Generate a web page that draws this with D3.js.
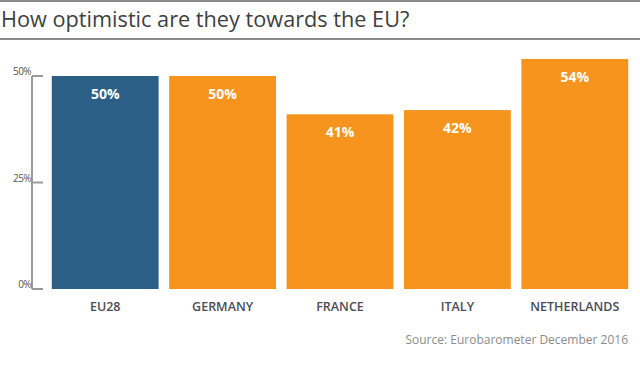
<!DOCTYPE html>
<html><head><meta charset="utf-8">
<script src="https://cdn.jsdelivr.net/npm/d3@7"></script>
<style>body{margin:0;background:#fff;}svg{display:block;}</style>
</head><body>
<svg id="c" width="640" height="366"></svg>
<script>
const categories = ["EU28","GERMANY","FRANCE","ITALY","NETHERLANDS"];
const values = [50,50,41,42,54];
const barColors = ["#2c5f86","#f7941d","#f7941d","#f7941d","#f7941d"];
const tickValues = [0,25,50];
const tickLabels = ["0%","25%","50%"];
const title = "How optimistic are they towards the EU?";
const source = "Source: Eurobarometer December 2016";

const svg = d3.select("#c");
const font = "'Open Sans', sans-serif";

svg.append("line").attr("x1",0).attr("x2",640).attr("y1",1).attr("y2",1).attr("stroke","#8a8a8a").attr("stroke-width",2);
svg.append("line").attr("x1",0).attr("x2",640).attr("y1",39).attr("y2",39).attr("stroke","#8a8a8a").attr("stroke-width",2);
svg.append("text").attr("x",1).attr("y",27).attr("font-family",font).attr("font-size",21.7).attr("fill","#3f3f3f").text(title);

const x = d3.scaleBand().domain(categories).range([46.5,633.5]).paddingInner(0.09).paddingOuter(0.045);
const y = d3.scaleLinear().domain([0,50]).range([289,76]);

// axis
const ax = svg.append("g");
ax.append("line").attr("x1",32).attr("x2",32).attr("y1",y(50)).attr("y2",y(0)).attr("stroke","#9a9a9a").attr("stroke-width",2);
ax.selectAll(".tk").data(tickValues).join("line").attr("x1",32).attr("x2",43).attr("y1",d=>y(d)).attr("y2",d=>y(d)).attr("stroke","#9a9a9a").attr("stroke-width",2);
ax.selectAll(".tl").data(tickValues).join("text").attr("x",31).attr("y",d=>y(d)-1).attr("text-anchor","end")
  .attr("font-family",font).attr("font-size",10).attr("letter-spacing",-0.6).attr("fill","#555").text((d,i)=>tickLabels[i]);

svg.selectAll(".bar").data(values).join("rect")
  .attr("x",(d,i)=>x(categories[i])).attr("width",x.bandwidth())
  .attr("y",d=>y(d)).attr("height",d=>y(0)-y(d)).attr("fill",(d,i)=>barColors[i]);

svg.selectAll(".vl").data(values).join("text")
  .attr("x",(d,i)=>x(categories[i])+x.bandwidth()/2).attr("y",d=>y(d)+23)
  .attr("text-anchor","middle").attr("font-family",font).attr("font-weight","bold").attr("font-size",14).attr("fill","#fff")
  .text(d=>d+"%");

svg.selectAll(".cl").data(categories).join("text")
  .attr("x",d=>x(d)+x.bandwidth()/2).attr("y",311)
  .attr("text-anchor","middle").attr("font-family",font).attr("font-weight",600).attr("font-size",12.5).attr("fill","#4a4d55")
  .text(d=>d);

svg.append("text").attr("x",628).attr("y",344).attr("text-anchor","end").attr("font-family",font).attr("font-size",12).attr("fill","#8c8c8c").text(source);
</script>
</body></html>
